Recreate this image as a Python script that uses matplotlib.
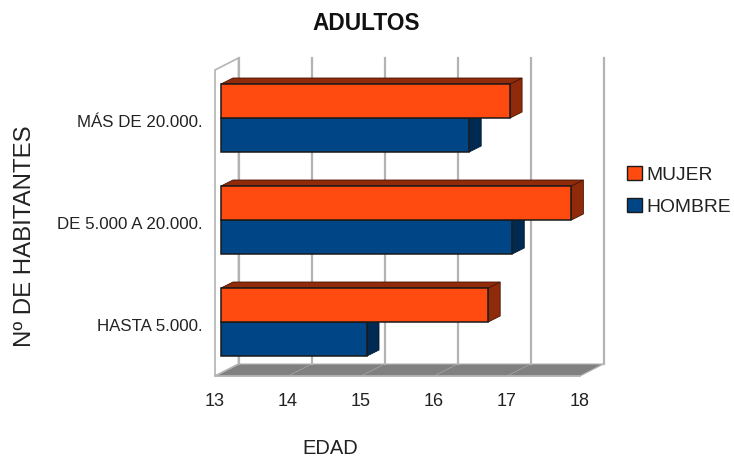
import matplotlib
matplotlib.use("Agg")
import matplotlib.pyplot as plt
from matplotlib.patches import Polygon, Patch

plt.rcParams['font.family'] = ['Liberation Sans', 'DejaVu Sans']

categories = ["HASTA 5.000.", "DE 5.000 A 20.000.", "MÁS DE 20.000."]
mujer = [16.66, 17.8, 16.96]
hombre = [15.0, 16.99, 16.4]
x_ticks = [13, 14, 15, 16, 17, 18]

W, H = 734, 457
fig = plt.figure(figsize=(W / 100, H / 100), dpi=100)
ax = fig.add_axes([215 / W, 1 - 376 / H, 365 / W, 306 / H])
ax.set_xlim(13, 18)
ax.set_ylim(0, 3)
for s in ax.spines.values():
    s.set_visible(False)

ux, uy = 73.0, 102.0          # pixels per data unit
wx, wy = 23.5 / ux, 12 / uy   # depth of the chart box
bx, by = 12 / ux, 6 / uy      # depth of a bar
fx, fy = 6 / ux, 3 / uy       # bar front offset from chart front
bar_h = 34 / uy

GRID = "#b3b3b3"
kw = dict(clip_on=False)
# floor
ax.add_patch(Polygon([(13, 0), (18, 0), (18 + wx, wy), (13 + wx, wy)], fc="#808080", ec=GRID, lw=0.8, zorder=1, **kw))
# left wall
ax.add_patch(Polygon([(13, 0), (13, 3), (13 + wx, 3 + wy), (13 + wx, wy)], fc="white", ec=GRID, lw=1.2, zorder=1, **kw))
# grid
for t in x_ticks:
    ax.plot([t + wx, t + wx], [wy, 3 + wy], color=GRID, lw=1.6, zorder=1.5, **kw)
    ax.plot([t, t + wx], [0, wy], color=GRID, lw=0.4, zorder=1.5, **kw)
ax.plot([13, 18], [0, 0], color=GRID, lw=1.2, zorder=1.6, **kw)


def bar3d(y0, val, front, side, top, edge, z):
    x0, x1 = 13 + fx, val + fx
    y0 = y0 + fy
    y1 = y0 + bar_h
    ax.add_patch(Polygon([(x1, y0), (x1 + bx, y0 + by), (x1 + bx, y1 + by), (x1, y1)],
                         fc=side, ec=edge, lw=0.6, zorder=z, **kw))
    ax.add_patch(Polygon([(x0, y1), (x1, y1), (x1 + bx, y1 + by), (x0 + bx, y1 + by)],
                         fc=top, ec=edge, lw=0.6, zorder=z, **kw))
    ax.barh(y0, val - 13, left=x0, height=bar_h, align="edge", color=front,
            edgecolor="#1a1a1a", lw=1.1, zorder=z + 0.1, **kw)


for i in range(3):
    c = i + 0.5
    bar3d(c - bar_h, hombre[i], "#004586", "#002a52", "#002a52", "#001a33", 3 + (2 - i) * 2)
    bar3d(c, mujer[i], "#ff4a10", "#8f2a0a", "#8f2a0a", "#4a1505", 4 + (2 - i) * 2)

ax.set_xticks(x_ticks)
ax.set_yticks([0.5, 1.5, 2.5])
ax.set_yticklabels(categories)
ax.tick_params(axis="both", length=0, labelcolor="#222222")
ax.tick_params(axis="x", labelsize=13, pad=12.5)
ax.tick_params(axis="y", labelsize=12.2, pad=9)

fig.text(366 / W, 1 - 24 / H, "ADULTOS", ha="center", va="center", fontsize=16.3, fontweight="bold", color="#111111")
fig.text(330 / W, 1 - 449 / H, "EDAD", ha="center", va="center", fontsize=14.5, color="#222222")
fig.text(25 / W, 1 - 236 / H, "Nº DE HABITANTES", ha="center", va="center", rotation=90, fontsize=17.3, color="#222222")

handles = [Patch(fc="#ff4a10", ec="#1a1a1a", lw=1), Patch(fc="#004586", ec="#1a1a1a", lw=1)]
fig.legend(handles, ["MUJER", "HOMBRE"], loc="center left", bbox_to_anchor=(623.5 / W, 1 - 191 / H), frameon=False,
           fontsize=13.9, handlelength=0.76, handleheight=0.76, handletextpad=0.22, labelspacing=0.72,
           borderpad=0.2, borderaxespad=0, labelcolor="#222222")

fig.savefig("out.png", dpi=100)
